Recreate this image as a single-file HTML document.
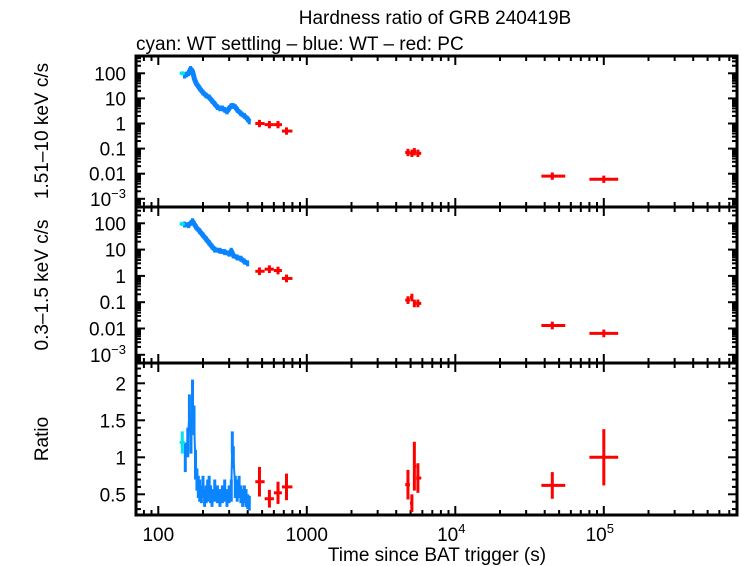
<!DOCTYPE html>
<html><head><meta charset="utf-8"><style>
body{margin:0;background:#fff}
svg{display:block;font-family:"Liberation Sans",sans-serif}
</style></head><body>
<svg id="c" width="742" height="566" viewBox="0 0 742 566" xmlns="http://www.w3.org/2000/svg">
<text x="435" y="24" text-anchor="middle" font-size="19">Hardness ratio of GRB 240419B</text>
<text x="136" y="50" font-size="19">cyan: WT settling – blue: WT – red: PC</text>
<text transform="translate(48,131) rotate(-90)" text-anchor="middle" font-size="19">1.51–10 keV c/s</text>
<text transform="translate(48,285) rotate(-90)" text-anchor="middle" font-size="19">0.3–1.5 keV c/s</text>
<text transform="translate(48,439) rotate(-90)" text-anchor="middle" font-size="19">Ratio</text>
<text x="437" y="561" text-anchor="middle" font-size="19">Time since BAT trigger (s)</text>
<g id="g"></g>
</svg>
<script>
// ---- data ----
const cyanT=[145];
const cyanHard=[100];
const cyanSoft=[95];
const cyanRatio=[1.2];
const cyanRatioErr=[0.15];
const blueHardT=[150,155,160,165,170,175,180,190,200,210,220,230,240,250,260,270,280,290,300,310,320,330,340,360,380,400,410];
const blueHard=[80,90,100,150,120,60,40,25,17,13,11,8,6,4.5,4,4,3.5,3,4,5,5,4.5,3.5,2.5,2,1.5,1.2];
const blueSoftT=[150,160,170,180,190,200,210,220,230,240,260,280,300,310,320,340,360,380,400];
const blueSoft=[90,85,120,70,50,35,25,18,13,10,9,8,7,9,6,5,4.5,3.5,3];
const blueRatioT=[152,158,162,166,170,174,178,182,186,190,195,200,205,210,215,220,225,230,240,250,260,270,280,290,300,310,315,320,330,340,350,360,370,380,390,400,410];
const blueRatio=[1.0,1.2,1.6,1.3,1.8,1.5,0.9,0.7,0.6,0.55,0.5,0.6,0.45,0.5,0.55,0.6,0.5,0.45,0.55,0.5,0.45,0.5,0.55,0.45,0.5,0.55,1.2,1.0,0.6,0.55,0.6,0.5,0.45,0.5,0.45,0.4,0.38];
const blueRatioErr=[0.2,0.2,0.25,0.25,0.25,0.2,0.2,0.15,0.15,0.15,0.12,0.15,0.12,0.12,0.15,0.15,0.12,0.12,0.15,0.12,0.12,0.12,0.15,0.12,0.12,0.15,0.15,0.15,0.15,0.15,0.15,0.12,0.12,0.12,0.12,0.1,0.1];
const redT=[480,560,640,730,4800,5100,5300,5600,45000,100000];
const redTlo=[450,520,600,680,4600,4950,5200,5450,38000,80000];
const redThi=[520,600,680,800,4950,5200,5450,5900,55000,125000];
const redHard=[1.0,0.9,0.9,0.5,0.07,0.065,0.075,0.065,0.008,0.006];
const redSoft=[1.5,1.8,1.6,0.8,0.12,0.15,0.09,0.09,0.013,0.0065];
const redRatio=[0.67,0.44,0.52,0.6,0.63,0.38,0.88,0.72,0.62,1.0];
const redRatioErr=[0.2,0.12,0.15,0.18,0.2,0.12,0.33,0.2,0.18,0.38];
const xTickLabels=["100","1000","10^4","10^5"];
const logTickLabels=["100","10","1","0.1","0.01","10^-3"];
const ratioTickLabels=["0.5","1","1.5","2"];
// ---- axes ----
const L=136,R=737;
const X=t=>158.3+(Math.log10(t)-2)*148.5;
const P=[{top:56,bot:207,y:v=>73.3+(2-Math.log10(v))*25.1},
         {top:207,bot:363,y:v=>223.3+(2-Math.log10(v))*26.3},
         {top:363,bot:515,y:v=>383.3+(2-v)*74}];
const NS="http://www.w3.org/2000/svg";
const g=document.getElementById('g');
function mk(tag,a,name){const e=document.createElementNS(NS,tag);for(const k in a)e.setAttribute(k,a[k]);


g.appendChild(e);return e;}
function ln(x1,y1,x2,y2,c,w,name){return mk('line',{x1,y1,x2,y2,stroke:c,'stroke-width':w},name);}
function txt(x,y,s,name,anchor){const e=mk('text',{x,y,'font-size':19,'text-anchor':anchor||'end'},name);
 const m=s.split('^');e.textContent=m[0];
 if(m[1]){const ts=document.createElementNS(NS,'tspan');ts.setAttribute('dy','-8');ts.setAttribute('font-size','13');ts.textContent=m[1].replace('-','−');e.appendChild(ts);}
 return e;}
for(let p=0;p<3;p++){const pa=P[p];
 for(let d=1;d<=5;d++)for(let k=1;k<10;k++){const t=k*Math.pow(10,d);const x=X(t);if(x<L||x>R)continue;
  const len=k==1?9:5;ln(x,pa.bot,x,pa.bot-len,'#000',2,'x-tick');ln(x,pa.top,x,pa.top+len,'#000',2,'x-tick');}}
xTickLabels.forEach((s,i)=>txt(X(Math.pow(10,i+2))+(i>1?-4:0),541,s,'x-tick-label','middle'));
for(let p=0;p<2;p++){const pa=P[p];
 for(let d=-4;d<=3;d++)for(let k=1;k<10;k++){const v=k*Math.pow(10,d);const y=pa.y(v);if(y<pa.top+1||y>pa.bot-1)continue;
  const len=k==1?9:5;ln(L,y,L+len,y,'#000',2,'y-tick');ln(R,y,R-len,y,'#000',2,'y-tick');}
 logTickLabels.forEach((s,i)=>txt(L-10,pa.y(Math.pow(10,2-i))+7,s,'y-tick-label'));}
{const pa=P[2];for(let v=0.3;v<=2.25;v+=0.1){const y=pa.y(v);const maj=Math.abs(v*2-Math.round(v*2))<0.01;
 const len=maj?9:5;ln(L,y,L+len,y,'#000',2,'y-tick');ln(R,y,R-len,y,'#000',2,'y-tick');}
 ratioTickLabels.forEach((s,i)=>txt(L-10,pa.y(0.5+i*0.5)+7,s,'y-tick-label'));}
const BL='#0a84ff',CY='#00e5ee',RD='#ff0000';
function cross(pa,t,tlo,thi,v,vlo,vhi,c,w,name){ln(X(tlo),pa.y(v),X(thi),pa.y(v),c,w,name);ln(X(t),vlo,X(t),vhi,c,w,name);}
[[0,blueHardT,blueHard],[1,blueSoftT,blueSoft]].forEach(([p,T,V])=>{const pa=P[p];
 mk('polyline',{points:T.map((t,i)=>X(t)+','+pa.y(V[i])).join(' '),fill:'none',stroke:BL,'stroke-width':5,'stroke-linejoin':'round'},'wt-rate-series');
 T.forEach((t,i)=>cross(pa,t,t*0.98,t*1.02,V[i],pa.y(V[i]*1.3),pa.y(V[i]/1.3),BL,3,'wt-point'));});
[[0,cyanHard],[1,cyanSoft]].forEach(([p,V])=>{cross(P[p],cyanT[0],cyanT[0]*0.96,cyanT[0]*1.04,V[0],P[p].y(V[0]*1.2),P[p].y(V[0]/1.2),CY,3,'wt-settling-point');});
[[0,redHard],[1,redSoft]].forEach(([p,V])=>{const pa=P[p];
 redT.forEach((t,i)=>cross(pa,t,redTlo[i],redThi[i],V[i],pa.y(V[i]*1.4),pa.y(V[i]/1.4),RD,3,'pc-point'));});
{const pa=P[2];
 mk('polyline',{points:blueRatioT.map((t,i)=>X(t)+','+pa.y(blueRatio[i])).join(' '),fill:'none',stroke:BL,'stroke-width':2},'wt-ratio-series');
 blueRatioT.forEach((t,i)=>cross(pa,t,t*0.985,t*1.015,blueRatio[i],pa.y(blueRatio[i]+blueRatioErr[i]),pa.y(blueRatio[i]-blueRatioErr[i]),BL,3,'wt-ratio-point'));
 cross(pa,cyanT[0],cyanT[0]*0.96,cyanT[0]*1.04,cyanRatio[0],pa.y(cyanRatio[0]+cyanRatioErr[0]),pa.y(cyanRatio[0]-cyanRatioErr[0]),CY,3,'wt-settling-ratio');
 redT.forEach((t,i)=>cross(pa,t,redTlo[i],redThi[i],redRatio[i],pa.y(redRatio[i]+redRatioErr[i]),pa.y(redRatio[i]-redRatioErr[i]),RD,3,'pc-ratio-point'));}
P.forEach((pa,i)=>mk('rect',{x:L,y:pa.top,width:R-L,height:pa.bot-pa.top,fill:'none',stroke:'#000','stroke-width':3},'panel-frame'));
</script>
</body></html>
